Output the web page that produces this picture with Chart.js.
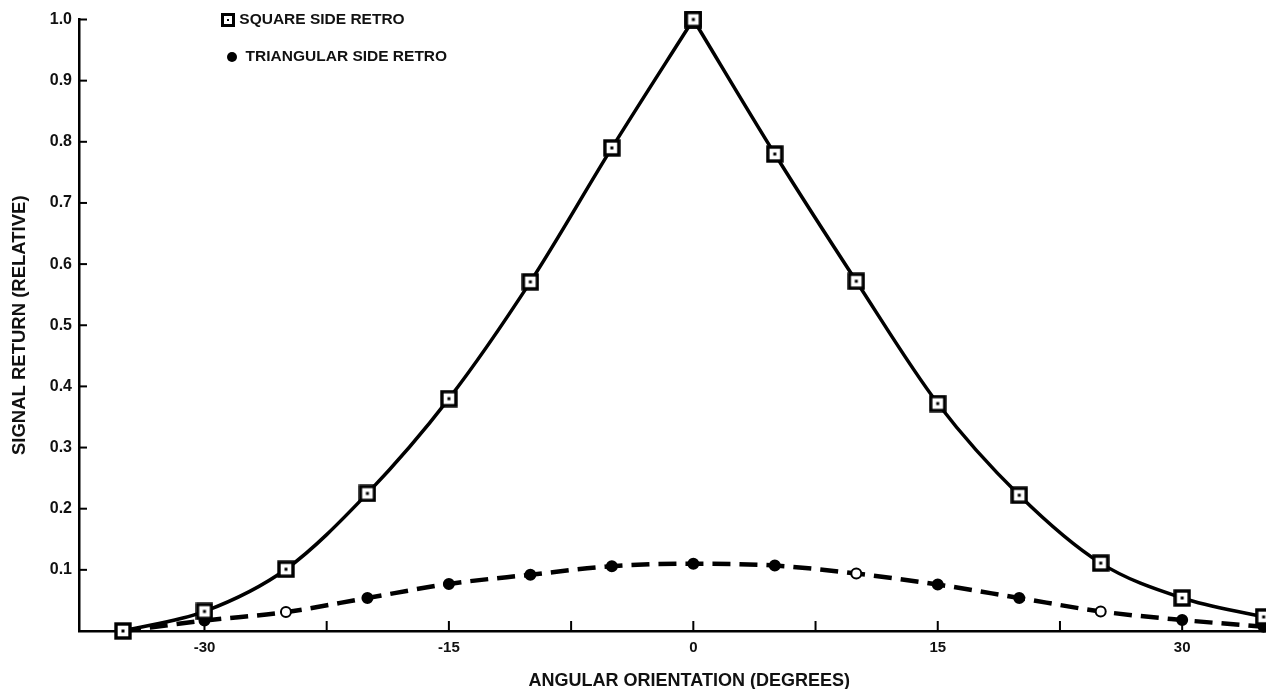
<!doctype html>
<html lang="en">
<head>
  <meta charset="utf-8">
  <title>Signal Return vs Angular Orientation</title>
  <script src="https://cdn.jsdelivr.net/npm/chart.js"></script>
  <style>
    html, body { margin: 0; padding: 0; background: #fff; overflow: hidden; }
    #wrap { position: relative; width: 1307px; height: 689px; }
    .legend { position: absolute; left: 221px; top: 0; font: bold 15.5px "Liberation Sans", Arial, sans-serif; color: #111; }
    .legend div { position: absolute; white-space: nowrap; }
    .sq { display: inline-block; box-sizing: border-box; width: 14px; height: 14px; border: 3px solid #000; position: relative; vertical-align: middle; }
    .sq::after { content: ""; position: absolute; left: 3px; top: 3px; width: 2px; height: 2px; background: #000; }
    .dot { display: inline-block; width: 10px; height: 10px; border-radius: 50%; background: #000; vertical-align: middle; }
  </style>
</head>
<body>
<div id="wrap">
  <canvas id="chart"></canvas>
  <div class="legend">
    <div style="left:0; top:10px;"><span class="sq"></span>&nbsp;SQUARE SIDE RETRO</div>
    <div style="left:6px; top:47px;"><span class="dot"></span>&nbsp;&nbsp;TRIANGULAR SIDE RETRO</div>
  </div>
</div>
<script>
  // ---- data ----
  const angles = [-35, -30, -25, -20, -15, -10, -5, 0, 5, 10, 15, 20, 25, 30, 35]
  const squareSide = [0.0, 0.032, 0.101, 0.225, 0.38, 0.571, 0.79, 1.0, 0.78, 0.572, 0.372, 0.222, 0.111, 0.054, 0.023]
  const triangularSide = [0.0, 0.017, 0.031, 0.054, 0.077, 0.092, 0.106, 0.110, 0.107, 0.094, 0.076, 0.054, 0.032, 0.018, 0.007]
  const xTicks = [-30, -22.5, -15, -7.5, 0, 7.5, 15, 22.5, 30]
  const yTicks = [0, 0.1, 0.2, 0.3, 0.4, 0.5, 0.6, 0.7, 0.8, 0.9, 1.0]
  const openCircles = [-25, 10, 25]

  const font = { family: '"Liberation Sans", Arial, sans-serif', weight: 'bold' }

  const toPoints = (xs, ys) => xs.map((x, i) => ({ x: x, y: ys[i] }))
  const peak = angles.indexOf(0)
  const sqPts = toPoints(angles, squareSide)

  // open square with a dot in the middle
  const squareMarker = () => {
    const c = document.createElement('canvas')
    c.width = 18; c.height = 18
    const g = c.getContext('2d')
    g.fillStyle = '#fff'
    g.fillRect(2, 2, 14, 14)
    g.lineWidth = 3.4
    g.strokeStyle = '#000'
    g.strokeRect(2, 2, 14, 14)
    g.fillStyle = '#000'
    g.fillRect(7.5, 7.5, 3, 3)
    return c
  }
  const sqImg = squareMarker()

  // tick marks pointing into the plot
  const innerTicks = {
    id: 'innerTicks',
    beforeDatasetsDraw(chart) {
      const { ctx, chartArea: a, scales: { x, y } } = chart
      ctx.save()
      ctx.strokeStyle = '#000'
      ctx.lineWidth = 2
      x.ticks.forEach(t => {
        const px = x.getPixelForValue(t.value)
        ctx.beginPath(); ctx.moveTo(px, a.bottom); ctx.lineTo(px, a.bottom - 10); ctx.stroke()
      })
      y.ticks.forEach(t => {
        if (t.value === 0) return
        const py = y.getPixelForValue(t.value)
        ctx.beginPath(); ctx.moveTo(a.left, py); ctx.lineTo(a.left + 8, py); ctx.stroke()
      })
      ctx.restore()
    }
  }

  const sqStyle = {
    borderColor: '#000',
    borderWidth: 3.5,
    pointStyle: sqImg,
    cubicInterpolationMode: 'monotone',
    clip: false,
    order: 0
  }

  new Chart(document.getElementById('chart'), {
    type: 'line',
    data: {
      datasets: [
        Object.assign({ label: 'SQUARE SIDE RETRO', data: sqPts.slice(0, peak + 1) }, sqStyle),
        Object.assign({ label: 'SQUARE SIDE RETRO', data: sqPts.slice(peak) }, sqStyle),
        {
          label: 'TRIANGULAR SIDE RETRO',
          data: toPoints(angles, triangularSide),
          borderColor: '#000',
          borderWidth: 4.5,
          borderDash: [18, 9],
          pointRadius: 5,
          pointBorderWidth: 2,
          pointBorderColor: '#000',
          pointBackgroundColor: angles.map(a => openCircles.includes(a) ? '#fff' : '#000'),
          cubicInterpolationMode: 'monotone',
          clip: false,
          order: 1
        }
      ]
    },
    options: {
      responsive: true,
      maintainAspectRatio: false,
      animation: false,
      layout: { padding: { top: 19.5, right: 0, bottom: 0, left: 0 } },
      plugins: { legend: { display: false }, tooltip: { enabled: false } },
      scales: {
        x: {
          type: 'linear',
          min: -37.7,
          max: 37.2,
          afterBuildTicks: s => { s.ticks = xTicks.map(v => ({ value: v })) },
          afterFit: s => { s.height = 58 },
          grid: { display: false, drawTicks: false },
          border: { color: '#000', width: 2.5 },
          ticks: {
            color: '#111',
            padding: 8,
            maxRotation: 0,
            autoSkip: false,
            font: Object.assign({ size: 15 }, font),
            callback: v => (v % 15 === 0 ? String(v) : '')
          },
          title: {
            display: true,
            text: 'ANGULAR ORIENTATION (DEGREES)',
            color: '#111',
            padding: { top: 0, bottom: -2.5 },
            font: Object.assign({ size: 18 }, font)
          }
        },
        y: {
          min: 0,
          max: 1.0,
          afterBuildTicks: s => { s.ticks = yTicks.map(v => ({ value: v })) },
          afterFit: s => { s.width = 79 },
          grid: { display: false, drawTicks: false },
          border: { color: '#000', width: 2.5 },
          ticks: {
            color: '#111',
            padding: 7,
            autoSkip: false,
            font: Object.assign({ size: 16 }, font),
            callback: v => (v === 0 ? '' : v.toFixed(1))
          },
          title: {
            display: true,
            text: 'SIGNAL RETURN (RELATIVE)',
            color: '#111',
            padding: { top: 9, bottom: 0 },
            font: Object.assign({ size: 18.5 }, font)
          }
        }
      }
    },
    plugins: [innerTicks]
  })
</script>
</body>
</html>
